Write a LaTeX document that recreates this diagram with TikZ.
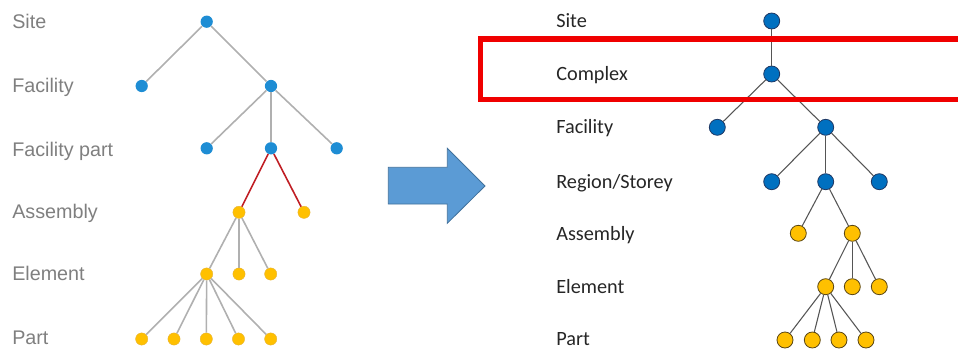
\documentclass[tikz,border=0pt]{standalone}
\usepackage{fontspec}
\setmainfont{Liberation Sans}
\newfontfamily\calibri{Carlito}
\begin{document}
\begin{tikzpicture}[x=0.75pt,y=0.75pt,yscale=-1,xscale=1,
  oldlabel/.style={anchor=base west,inner sep=0pt,text={rgb,255:red,127;green,127;blue,127},font=\fontsize{14.8}{17}\selectfont},
  newlabel/.style={anchor=base west,inner sep=0pt,text={rgb,255:red,38;green,38;blue,38},font=\calibri\fontsize{15.2}{17}\selectfont},
  olddot/.style={circle,inner sep=0pt,minimum size=9.2pt},
  oldblue/.style={olddot,fill={rgb,255:red,30;green,141;blue,212}},
  oldyellow/.style={olddot,fill={rgb,255:red,255;green,192;blue,0},draw={rgb,255:red,230;green,180;blue,60},line width=0.3pt},
  newdot/.style={circle,inner sep=0pt,minimum size=12pt,line width=0.6pt},
  newblue/.style={newdot,fill={rgb,255:red,0;green,112;blue,192},draw={rgb,255:red,31;green,56;blue,100}},
  newyellow/.style={newdot,fill={rgb,255:red,255;green,192;blue,0},draw={rgb,255:red,90;green,70;blue,20}},
  oldedge/.style={draw={rgb,255:red,176;green,176;blue,176},line width=1.2pt},
  rededge/.style={draw={rgb,255:red,192;green,30;blue,36},line width=1.2pt},
  newedge/.style={draw={rgb,255:red,85;green,85;blue,85},line width=0.8pt}
]
\useasboundingbox (0,0) rectangle (958,350);
\clip (0,0) rectangle (958,350);

% Text Node (old levels)
\node[oldlabel] (lsite) at (12,28) {Site};
\node[oldlabel] (lfac) at (12,92.5) {Facility};
\node[oldlabel] (lfp) at (12,156) {Facility part};
\node[oldlabel] (lasm) at (12,218) {Assembly};
\node[oldlabel] (lel) at (12,280) {Element};
\node[oldlabel] (lpart) at (12,344.5) {Part};

%Shape: Circle (old tree)
\node[oldblue] (os) at (206.7,21.7) {};
\node[oldblue] (of1) at (141.7,86) {};
\node[oldblue] (of2) at (271,86) {};
\node[oldblue] (ofp1) at (206.7,148.3) {};
\node[oldblue] (ofp2) at (271,148.3) {};
\node[oldblue] (ofp3) at (336.7,148.3) {};
\node[oldyellow] (oa1) at (239,212.3) {};
\node[oldyellow] (oa2) at (304,212.3) {};
\node[oldyellow] (oe1) at (206.7,274) {};
\node[oldyellow] (oe2) at (239,274) {};
\node[oldyellow] (oe3) at (270.7,274) {};
\foreach \i/\x in {1/141.7,2/174,3/206.3,4/238.5,5/270.7}
  \node[oldyellow] (op\i) at (\x,339) {};

%Straight Lines (old tree)
\draw[oldedge] (os) -- (of1);
\draw[oldedge] (os) -- (of2);
\foreach \i in {1,2,3} \draw[oldedge] (of2) -- (ofp\i);
\draw[rededge] (ofp2) -- (oa1);
\draw[rededge] (ofp2) -- (oa2);
\foreach \i in {1,2,3} \draw[oldedge] (oa1) -- (oe\i);
\foreach \i in {1,...,5} \draw[oldedge] (oe1) -- (op\i);

%Shape: Right Arrow
\draw[fill={rgb,255:red,91;green,155;blue,213},draw={rgb,255:red,65;green,113;blue,156},line width=0.6pt]
  (388.3,167.3) -- (447.3,167.3) -- (447.3,148.3) -- (485,186) -- (447.3,223.3) -- (447.3,204) -- (388.3,204) -- cycle;

% Text Node (new levels)
\node[newlabel] (nsite) at (556,27.5) {Site};
\node[newlabel] (ncx) at (556,80) {Complex};
\node[newlabel] (nfac) at (556,133.5) {Facility};
\node[newlabel] (nreg) at (556,188) {Region/Storey};
\node[newlabel] (nasm) at (556,240) {Assembly};
\node[newlabel] (nel) at (556,293.5) {Element};
\node[newlabel] (npart) at (556,345.5) {Part};

%Shape: Circle (new tree)
\node[newblue] (ns) at (771.7,21) {};
\node[newblue] (nc) at (771.7,74) {};
\node[newblue] (nf1) at (717.3,127.3) {};
\node[newblue] (nf2) at (825.7,127.3) {};
\node[newblue] (nr1) at (771.7,181.7) {};
\node[newblue] (nr2) at (825.7,181.7) {};
\node[newblue] (nr3) at (879.3,181.7) {};
\node[newyellow] (na1) at (798.3,233.3) {};
\node[newyellow] (na2) at (852.3,233.3) {};
\node[newyellow] (ne1) at (825.7,286.7) {};
\node[newyellow] (ne2) at (852.3,286.7) {};
\node[newyellow] (ne3) at (879.3,286.7) {};
\foreach \i/\x in {1/785,2/812.3,3/839,4/866}
  \node[newyellow] (np\i) at (\x,340) {};

%Straight Lines (new tree)
\draw[newedge] (ns) -- (nc);
\draw[newedge] (nc) -- (nf1);
\draw[newedge] (nc) -- (nf2);
\foreach \i in {1,2,3} \draw[newedge] (nf2) -- (nr\i);
\draw[newedge] (nr2) -- (na1);
\draw[newedge] (nr2) -- (na2);
\foreach \i in {1,2,3} \draw[newedge] (na2) -- (ne\i);
\foreach \i in {1,...,4} \draw[newedge] (ne1) -- (np\i);

%Shape: Rectangle (highlight)
\draw[draw={rgb,255:red,240;green,0;blue,0},line width=4.2pt] (480.3,39) rectangle (975,99.5);

\end{tikzpicture}
\end{document}
